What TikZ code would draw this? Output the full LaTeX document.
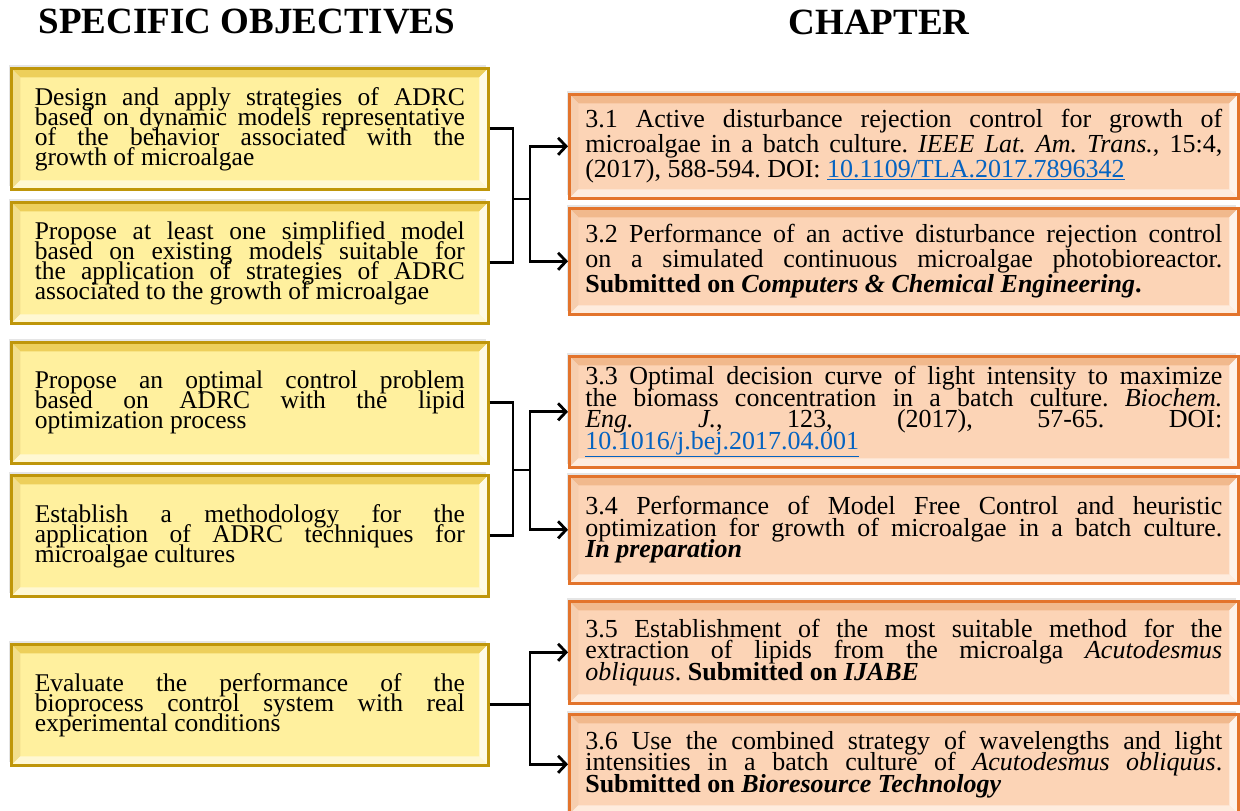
\documentclass[tikz,border=0pt]{standalone}
\usepackage{fontspec}
\setmainfont{Liberation Serif}
\usepackage{xcolor}
\usetikzlibrary{arrows.meta, positioning, shadows}
\frenchspacing

\definecolor{objfill}{HTML}{FFF09E}
\definecolor{objedge}{HTML}{BF960A}
\definecolor{objdark}{HTML}{E8C74A}
\definecolor{chapfill}{HTML}{FCD4B6}
\definecolor{chapedge}{HTML}{E3742C}
\definecolor{chapdark}{HTML}{EFB283}
\definecolor{doiblue}{HTML}{0563C1}
\newcommand\doilink[1]{\textcolor{doiblue}{\underline{#1}}}
\newcommand\tightlines{\setlength{\lineskiplimit}{-50pt}\setlength{\lineskip}{0pt}}

\tikzset{
  bevel/.style 2 args={path picture={
    \fill[#1] (path picture bounding box.north west) -- (path picture bounding box.north east)
      -- ([xshift=-9pt,yshift=-9pt]path picture bounding box.north east)
      -- ([xshift=9pt,yshift=-9pt]path picture bounding box.north west) -- cycle;
    \fill[#1!70!white] (path picture bounding box.north west) -- (path picture bounding box.south west)
      -- ([xshift=9pt,yshift=9pt]path picture bounding box.south west)
      -- ([xshift=9pt,yshift=-9pt]path picture bounding box.north west) -- cycle;
    \fill[#2] (path picture bounding box.south west) -- (path picture bounding box.south east)
      -- ([xshift=-9pt,yshift=9pt]path picture bounding box.south east)
      -- ([xshift=9pt,yshift=9pt]path picture bounding box.south west) -- cycle;
    \fill[#2!60!white] (path picture bounding box.north east) -- (path picture bounding box.south east)
      -- ([xshift=-9pt,yshift=9pt]path picture bounding box.south east)
      -- ([xshift=-9pt,yshift=-9pt]path picture bounding box.north east) -- cycle;
  }}
}

\begin{document}
\begin{tikzpicture}[
  x=1pt, y=-1pt,
  head/.style={font=\fontsize{37}{40}\selectfont\bfseries},
  objbox/.style={anchor=north west, draw=objedge, line width=2.6pt, fill=objfill,
                 bevel={objdark!80!objfill}{white!55!objfill},
                 drop shadow={shadow xshift=-2pt, shadow yshift=3pt, fill=black!20, opacity=0.5},
                 minimum width=477pt, minimum height=121pt, text width=430pt,
                 align=justify, font=\fontsize{25.5}{20}\selectfont\tightlines},
  chapbox/.style={anchor=north west, draw=chapedge, line width=2.6pt, fill=chapfill,
                  bevel={chapdark!80!chapfill}{white!55!chapfill},
                  drop shadow={shadow xshift=-2pt, shadow yshift=3pt, fill=black!20, opacity=0.5},
                  minimum width=669pt, text width=637pt,
                  align=justify, font=\fontsize{26}{21.5}\selectfont\tightlines},
  link/.style={line width=2.8pt, black},
  arrow/.style={link, -{Straight Barb[length=8pt, width=17pt]}}
]
\useasboundingbox[fill=white] (0,0) rectangle (1240,811);

\node (objhead)  [head] at (247,22) {SPECIFIC OBJECTIVES};
\node (chaphead) [head] at (879,22) {CHAPTER};

% specific objectives
\node (obj1) [objbox] at (10,67)
  {Design and apply strategies of ADRC \linebreak based on dynamic models representative \linebreak of the behavior associated with the \linebreak growth of microalgae};
\node (obj2) [objbox] at (10,201)
  {Propose at least one simplified model \linebreak based on existing models suitable for \linebreak the application of strategies of ADRC \linebreak associated to the growth of microalgae};
\node (obj3) [objbox] at (10,341)
  {Propose an optimal control problem \linebreak based on ADRC with the lipid \linebreak optimization process};
\node (obj4) [objbox] at (10,474)
  {Establish a methodology for the \linebreak application of ADRC techniques for \linebreak microalgae cultures};
\node (obj5) [objbox] at (10,643)
  {Evaluate the performance of the \linebreak bioprocess control system with real \linebreak experimental conditions};

% chapters
\node (chap1) [chapbox, minimum height=104pt, font=\fontsize{26}{25}\selectfont\tightlines] at (568,93)
  {3.1 Active disturbance rejection control for growth of \linebreak microalgae in a batch culture. \textit{IEEE Lat. Am. Trans.}, 15:4, \linebreak (2017), 588-594. DOI: \doilink{10.1109/TLA.2017.7896342}};
\node (chap2) [chapbox, minimum height=106pt, font=\fontsize{26}{25}\selectfont\tightlines] at (568,207)
  {3.2 Performance of an active disturbance rejection control \linebreak on a simulated continuous microalgae photobioreactor. \linebreak \textbf{Submitted on \textit{Computers \& Chemical Engineering}.}};
\node (chap3) [chapbox, minimum height=111pt] at (568,355)
  {3.3 Optimal decision curve of light intensity to maximize \linebreak the biomass concentration in a batch culture. \textit{Biochem.} \linebreak \textit{Eng.} \textit{J.}, 123, (2017), 57-65. DOI: \linebreak \doilink{10.1016/j.bej.2017.04.001}};
\node (chap4) [chapbox, minimum height=107pt] at (568,475)
  {3.4 Performance of Model Free Control and heuristic \linebreak optimization for growth of microalgae in a batch culture. \linebreak \textbf{\textit{In preparation}}};
\node (chap5) [chapbox, minimum height=102pt] at (568,600)
  {3.5 Establishment of the most suitable method for the \linebreak extraction of lipids from the microalga \textit{Acutodesmus} \linebreak \textit{obliquus}. \textbf{Submitted on \textit{IJABE}}};
\node (chap6) [chapbox, minimum height=100pt] at (568,713)
  {3.6 Use the combined strategy of wavelengths and light \linebreak intensities in a batch culture of \textit{Acutodesmus obliquus}. \linebreak \textbf{Submitted on \textit{Bioresource Technology}}};

% connectors
\coordinate (forkA) at (513,199);
\coordinate (splitA) at (530,199);
\draw [link] (obj1.east) -| (forkA);
\draw [link] (obj2.east) -| (forkA);
\draw [link] (forkA) -- (splitA);
\draw [arrow] (splitA) |- (chap1);
\draw [arrow] (splitA) |- (chap2);

\coordinate (forkB) at (513,470);
\coordinate (splitB) at (530,470);
\draw [link] (obj3.east) -| (forkB);
\draw [link] (obj4.east) -| (forkB);
\draw [link] (forkB) -- (splitB);
\draw [arrow] (splitB) |- (chap3);
\draw [arrow] (splitB) |- (chap4);

\coordinate (splitC) at (obj5.east -| 530,0);
\draw [link] (obj5.east) -- (splitC);
\draw [arrow] (splitC) |- (chap5);
\draw [arrow] (splitC) |- (chap6);
\end{tikzpicture}
\end{document}
